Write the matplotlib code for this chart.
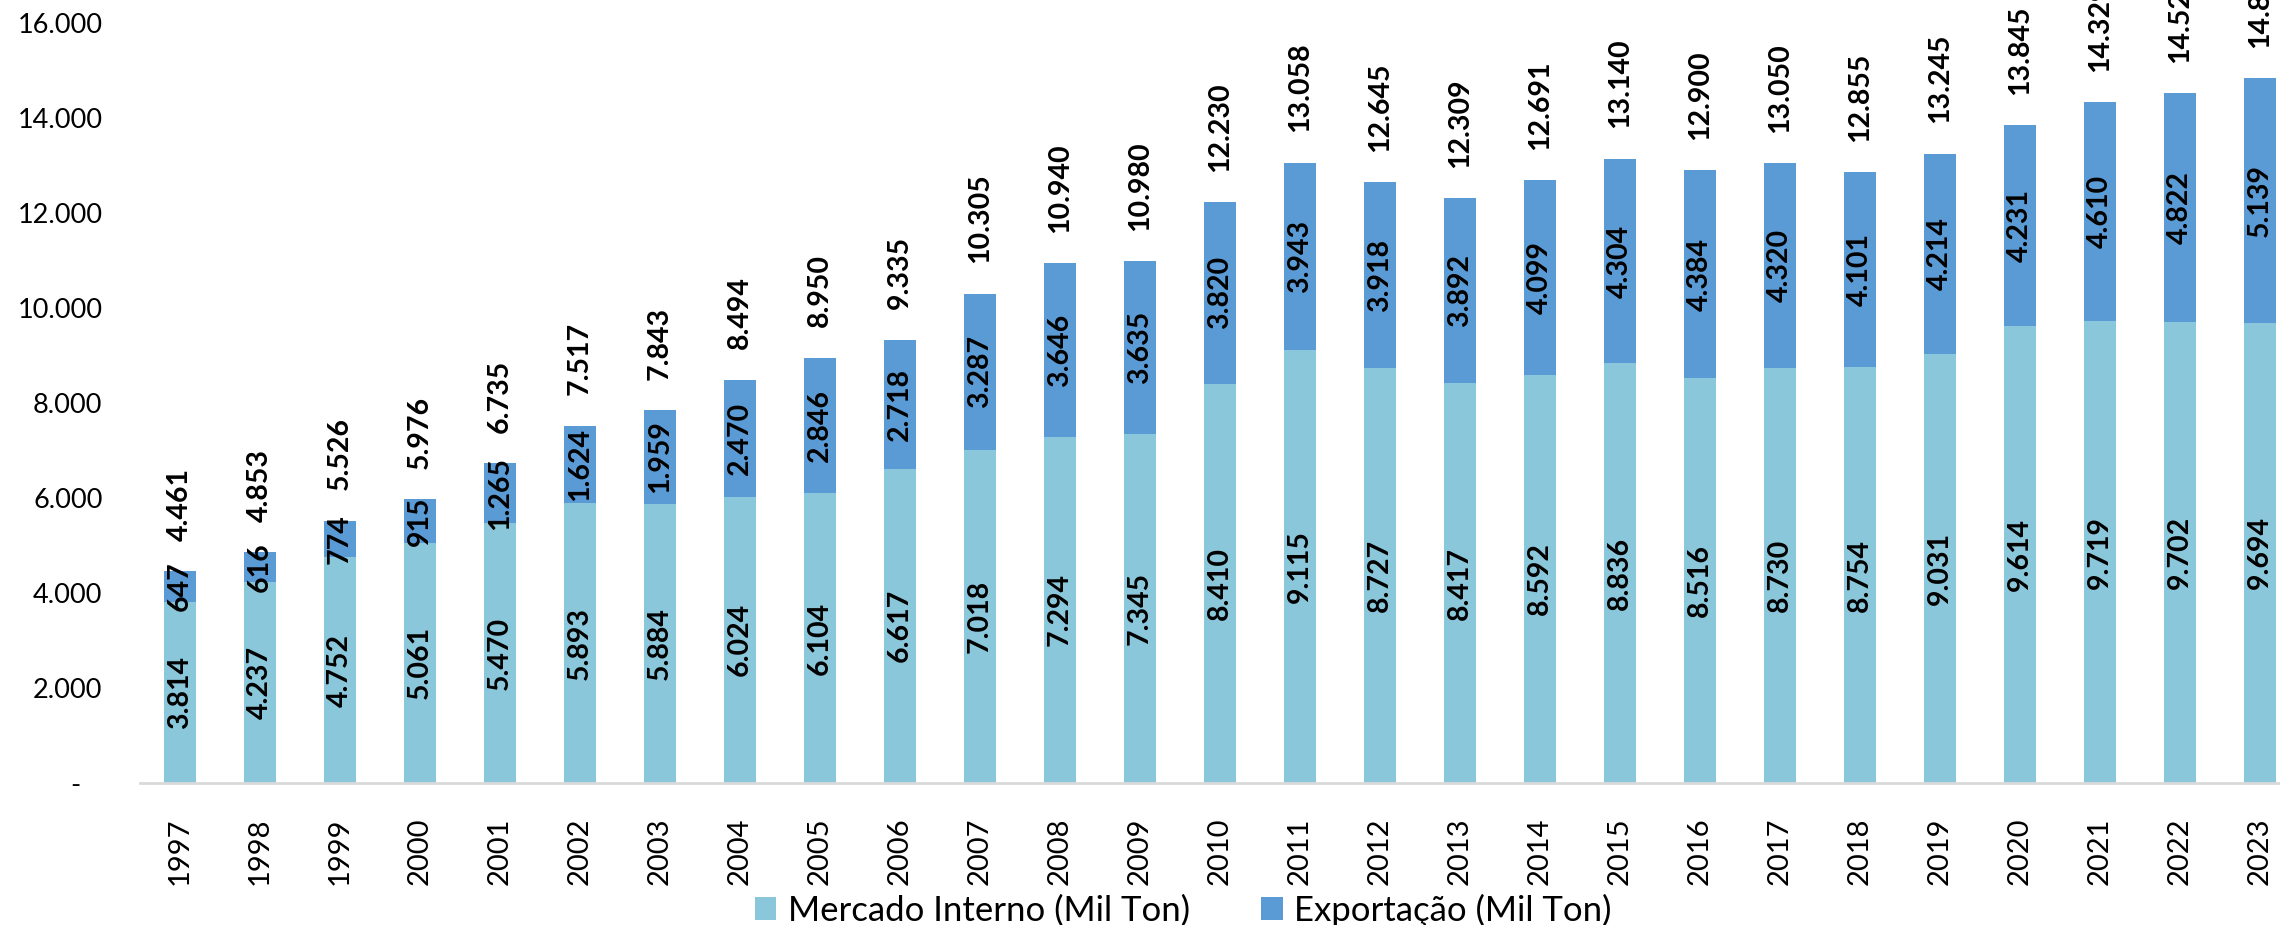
import matplotlib
matplotlib.use("Agg")
import matplotlib.pyplot as plt
from matplotlib.ticker import FuncFormatter

anos = ["1997", "1998", "1999", "2000", "2001", "2002", "2003", "2004", "2005",
        "2006", "2007", "2008", "2009", "2010", "2011", "2012", "2013", "2014",
        "2015", "2016", "2017", "2018", "2019", "2020", "2021", "2022", "2023"]
mercado_interno = [3814, 4237, 4752, 5061, 5470, 5893, 5884, 6024, 6104, 6617,
                   7018, 7294, 7345, 8410, 9115, 8727, 8417, 8592, 8836, 8516,
                   8730, 8754, 9031, 9614, 9719, 9702, 9694]
exportacao = [647, 616, 774, 915, 1265, 1624, 1959, 2470, 2846, 2718, 3287,
              3646, 3635, 3820, 3943, 3918, 3892, 4099, 4304, 4384, 4320, 4101,
              4214, 4231, 4610, 4822, 5139]
totais = [4461, 4853, 5526, 5976, 6735, 7517, 7843, 8494, 8950, 9335, 10305,
          10940, 10980, 12230, 13058, 12645, 12309, 12691, 13140, 12900, 13050,
          12855, 13245, 13845, 14329, 14524, 14833]
y_ticks = [0, 2000, 4000, 6000, 8000, 10000, 12000, 14000, 16000]

COR_MI = "#8AC7DA"
COR_EX = "#5B9BD5"
FONT = "Lato"

def fmt(v):
    return f"{int(round(v)):,}".replace(",", ".")

fig = plt.figure(figsize=(22.8, 9.25), dpi=100)
ax = fig.add_axes([140 / 2280, 1 - 783 / 925, 2160 / 2280, 760 / 925])

x = list(range(len(anos)))
w = 0.4
b1 = ax.bar(x, mercado_interno, width=w, color=COR_MI, label="Mercado Interno (Mil Ton)")
b2 = ax.bar(x, exportacao, width=w, bottom=mercado_interno, color=COR_EX,
            label="Exportação (Mil Ton)")

LBL = 20.5
for i in x:
    ax.text(i, mercado_interno[i] / 2, fmt(mercado_interno[i]), rotation=90,
            ha="center", va="center", fontsize=LBL, fontweight="bold",
            family=FONT, color="black")
    ax.text(i, mercado_interno[i] + exportacao[i] / 2, fmt(exportacao[i]),
            rotation=90, ha="center", va="center", fontsize=LBL,
            fontweight="bold", family=FONT, color="black")
    ax.annotate(fmt(totais[i]), xy=(i, totais[i]), xytext=(0, 22),
                textcoords="offset points", rotation=90, ha="center",
                va="bottom", fontsize=LBL, fontweight="bold", family=FONT,
                color="black", annotation_clip=False)

ax.set_xlim(-0.5, len(anos) - 0.5)
ax.set_ylim(0, 16000)
ax.set_yticks(y_ticks)
ax.yaxis.set_major_formatter(FuncFormatter(lambda v, p: "-   " if v == 0 else fmt(v)))
ax.set_xticks(x)
ax.set_xticklabels(anos, rotation=90)
ax.tick_params(axis="y", length=0, pad=27, labelsize=19.5)
ax.tick_params(axis="x", length=0, pad=25, labelsize=21)
for lab in ax.get_xticklabels() + ax.get_yticklabels():
    lab.set_family(FONT)

for s in ["top", "right", "left"]:
    ax.spines[s].set_visible(False)
ax.spines["bottom"].set_color("#D9D9D9")
ax.spines["bottom"].set_linewidth(2)

leg = fig.legend(handles=[b1, b2], loc="center", bbox_to_anchor=(1183 / 2280, 1 - 910 / 925),
                 ncol=2, frameon=False, prop={"family": FONT, "size": 25},
                 handlelength=0.63, handleheight=0.63, handletextpad=0.32,
                 columnspacing=2.05, borderpad=0)

fig.savefig("out.png", dpi=100)
